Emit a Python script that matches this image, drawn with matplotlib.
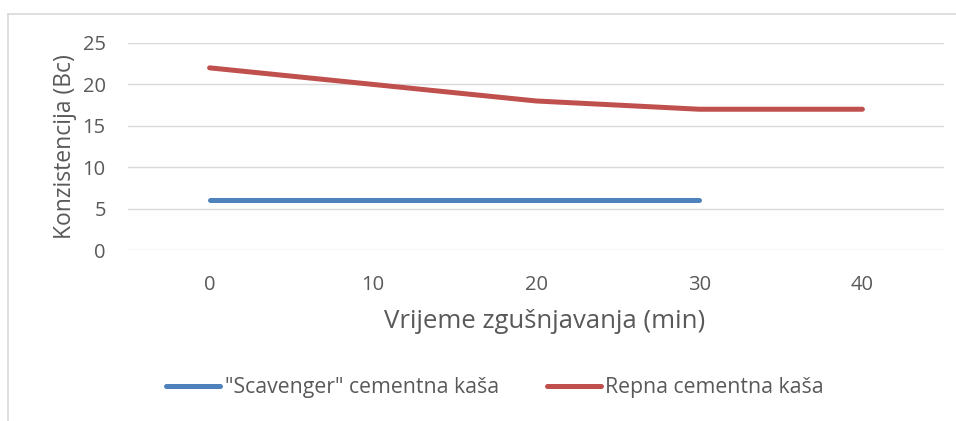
import matplotlib.pyplot as plt
from matplotlib.lines import Line2D

# data
vrijeme = ['0', '10', '20', '30', '40']
scavenger = [6, 6, 6, 6]
repna = [22, 20, 18, 17, 17]
yticks = [0, 5, 10, 15, 20, 25]

txt = '#595959'
plt.rcParams['font.family'] = ['Open Sans', 'DejaVu Sans']

W, H = 956, 421
fig = plt.figure(figsize=(W / 100, H / 100), dpi=100)
ax = fig.add_axes([128 / W, 1 - 250 / H, 816 / W, 207 / H])

ax.plot(range(len(scavenger)), scavenger, color='#4F81BD', lw=3.6,
        solid_capstyle='round', solid_joinstyle='round', label='"Scavenger" cementna kaša')
ax.plot(range(len(repna)), repna, color='#C0504D', lw=3.6,
        solid_capstyle='round', solid_joinstyle='round', label='Repna cementna kaša')

ax.set_xlim(-0.5, len(vrijeme) - 0.5)
ax.set_ylim(0, 25)
ax.set_xticks(range(len(vrijeme)))
ax.set_xticklabels(vrijeme)
ax.set_yticks(yticks)
ax.tick_params(axis='both', length=0, labelsize=14.5, colors=txt)
ax.tick_params(axis='y', pad=16)
ax.tick_params(axis='x', pad=18)
ax.grid(axis='y', color='#D9D9D9', lw=1)
ax.set_axisbelow(True)
for s in ax.spines.values():
    s.set_visible(False)

ax.set_ylabel('Konzistencija (Bc)', fontsize=16.5, color=txt, labelpad=4)
ax.set_xlabel('Vrijeme zgušnjavanja (min)', fontsize=18.5, color=txt, labelpad=10)
ax.xaxis.label.set_x(0.511)

leg = fig.legend(loc='center', bbox_to_anchor=(495 / W, 1 - 388 / H), ncol=2,
                 frameon=False, fontsize=15.3, handlelength=2.55, handletextpad=0.2,
                 columnspacing=2.25)
for t in leg.get_texts():
    t.set_color(txt)

# chart area border (only top and left visible in the crop)
bc = '#D9D9D9'
fig.add_artist(Line2D([7.5 / W, 7.5 / W], [0, 1 - 14 / H], color=bc, lw=1.2))
fig.add_artist(Line2D([7.5 / W, 1], [1 - 14 / H, 1 - 14 / H], color=bc, lw=1.2))

fig.savefig('out.png', dpi=100)
